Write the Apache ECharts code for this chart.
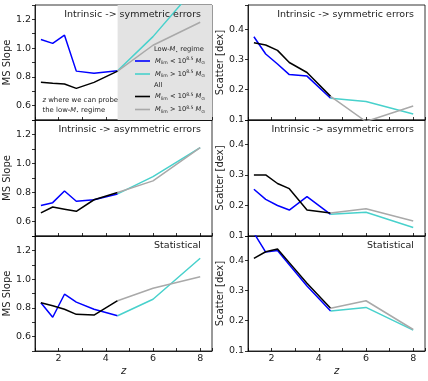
<!DOCTYPE html>
<html>
<head>
<meta charset="utf-8">
<script src="https://cdn.jsdelivr.net/npm/echarts@6/dist/echarts.min.js"></script>
<style>
  html, body { margin: 0; padding: 0; background: #fff; }
  #chart { width: 428px; height: 381px; }
</style>
</head>
<body>
<div id="chart"></div>
<script>
// redshift bins
const zLow = [1.25, 1.75, 2.25, 2.75, 3.5, 4.5]
const zHigh = [4.5, 6, 8]
const xTicks = [2, 4, 6, 8]

// MS slope: intrinsic -> symmetric errors
const slopeSymLoLt = [1.06, 1.033, 1.09, 0.84, 0.825, 0.843]
const slopeSymLoGt = [0.843, 1.08, 1.46]
const slopeSymAllLt = [0.762, 0.755, 0.75, 0.72, 0.762, 0.84]
const slopeSymAllGt = [0.84, 1.02, 1.18]
// MS slope: intrinsic -> asymmetric errors
const slopeAsymLoLt = [0.71, 0.73, 0.81, 0.74, 0.75, 0.79]
const slopeAsymLoGt = [0.79, 0.91, 1.11]
const slopeAsymAllLt = [0.66, 0.70, 0.685, 0.67, 0.75, 0.80]
const slopeAsymAllGt = [0.80, 0.88, 1.11]
// MS slope: statistical
const slopeStatLoLt = [0.836, 0.735, 0.895, 0.84, 0.79, 0.745]
const slopeStatLoGt = [0.745, 0.86, 1.145]
const slopeStatAllLt = [0.836, 0.815, 0.79, 0.755, 0.75, 0.85]
const slopeStatAllGt = [0.85, 0.936, 1.017]

// scatter: intrinsic -> symmetric errors
const scatSymLoLt = [0.375, 0.318, 0.285, 0.25, 0.245, 0.172]
const scatSymLoGt = [0.172, 0.161, 0.12]
const scatSymAllLt = [0.355, 0.348, 0.33, 0.29, 0.257, 0.178]
const scatSymAllGt = [0.178, 0.095, 0.146]
// scatter: intrinsic -> asymmetric errors
const scatAsymLoLt = [0.253, 0.22, 0.20, 0.185, 0.229, 0.171]
const scatAsymLoGt = [0.171, 0.178, 0.128]
const scatAsymAllLt = [0.30, 0.30, 0.272, 0.255, 0.185, 0.175]
const scatAsymAllGt = [0.175, 0.189, 0.149]
// scatter: statistical
const scatStatLoLt = [0.49, 0.427, 0.432, 0.385, 0.315, 0.232]
const scatStatLoGt = [0.232, 0.244, 0.169]
const scatStatAllLt = [0.406, 0.428, 0.437, 0.392, 0.324, 0.241]
const scatStatAllGt = [0.241, 0.266, 0.171]

const FONT = 'DejaVu Sans'
const colors = { lo_lt: '#0000ff', lo_gt: '#48d1cc', all_lt: '#000000', all_gt: '#a9a9a9' }

const panels = [
  { title: 'Intrinsic -> symmetric errors', col: 0, row: 0, d: [slopeSymLoLt, slopeSymLoGt, slopeSymAllLt, slopeSymAllGt] },
  { title: 'Intrinsic -> symmetric errors', col: 1, row: 0, d: [scatSymLoLt, scatSymLoGt, scatSymAllLt, scatSymAllGt] },
  { title: 'Intrinsic -> asymmetric errors', col: 0, row: 1, d: [slopeAsymLoLt, slopeAsymLoGt, slopeAsymAllLt, slopeAsymAllGt] },
  { title: 'Intrinsic -> asymmetric errors', col: 1, row: 1, d: [scatAsymLoLt, scatAsymLoGt, scatAsymAllLt, scatAsymAllGt] },
  { title: 'Statistical', col: 0, row: 2, d: [slopeStatLoLt, slopeStatLoGt, slopeStatAllLt, slopeStatAllGt] },
  { title: 'Statistical', col: 1, row: 2, d: [scatStatLoLt, scatStatLoGt, scatStatAllLt, scatStatAllGt] }
]

const colLeft = [35, 248]
const colWidth = 177
const rowTop = [5, 120, 236]
const rowHeight = [115, 116, 115]

const pair = (xs, ys) => xs.map((x, i) => [x, ys[i]])

const grid = []
const xAxis = []
const yAxis = []
const title = []
const series = []

panels.forEach((p, i) => {
  grid.push({
    left: colLeft[p.col], top: rowTop[p.row], width: colWidth, height: rowHeight[p.row],
    show: true, borderColor: '#000', borderWidth: 0.8, backgroundColor: 'transparent'
  })
  const bottomRow = p.row === 2
  xAxis.push({
    type: 'value', gridIndex: i, min: 1, max: 8.5, interval: 1,
    splitLine: { show: false },
    axisLine: { show: true, onZero: false, lineStyle: { color: '#000', width: 0.8 } },
    axisTick: { show: true, inside: true, length: 3, lineStyle: { color: '#000', width: 0.8 } },
    axisLabel: {
      show: bottomRow, margin: 3, fontFamily: FONT, fontSize: 9.5, color: '#222',
      formatter: v => (xTicks.indexOf(v) >= 0 ? String(v) : '')
    },
    name: bottomRow ? 'z' : '', nameLocation: 'middle', nameGap: 15,
    nameTextStyle: { fontFamily: FONT, fontSize: 10, fontStyle: 'italic', color: '#222' }
  })
  const isSlope = p.col === 0
  yAxis.push({
    type: 'value', gridIndex: i,
    min: isSlope ? 0.5 : 0.1, max: isSlope ? 1.3 : 0.48, interval: 0.1,
    splitLine: { show: false },
    axisLine: { show: true, lineStyle: { color: '#000', width: 0.8 } },
    axisTick: { show: true, inside: false, length: 3, lineStyle: { color: '#000', width: 0.8 } },
    axisLabel: {
      margin: 4, fontFamily: FONT, fontSize: 9.5, color: '#222',
      formatter: v => {
        const k = Math.round(v * 10)
        if (Math.abs(v * 10 - k) > 1e-6) return ''
        if (isSlope) return (k % 2 === 0 && k >= 6 && k <= 12) ? (k / 10).toFixed(1) : ''
        return (k >= 1 && k <= 4) ? (k / 10).toFixed(1) : ''
      }
    },
    name: isSlope ? 'MS Slope' : 'Scatter [dex]', nameLocation: 'middle', nameGap: isSlope ? 22 : 23,
    nameTextStyle: { fontFamily: FONT, fontSize: 10, color: '#222' }
  })
  title.push({
    text: p.title,
    right: p.col === 0 ? 428 - 201 : 428 - 414,
    top: rowTop[p.row] + 5,
    padding: 0,
    textStyle: { fontFamily: FONT, fontSize: 9.5, fontWeight: 'normal', color: '#222' }
  })

  // shaded high-z region in the first panel
  if (i === 0) {
    series.push({
      type: 'line', xAxisIndex: i, yAxisIndex: i, data: [], z: 0, silent: true,
      markArea: {
        silent: true,
        itemStyle: { color: '#e3e3e3' },
        data: [[{ xAxis: 4.5 }, { xAxis: 8.5 }]]
      }
    })
  }

  const names = ['lo_lt', 'lo_gt', 'all_lt', 'all_gt']
  const xs = [zLow, zHigh, zLow, zHigh]
  names.forEach((n, k) => {
    series.push({
      name: n, type: 'line', xAxisIndex: i, yAxisIndex: i,
      data: pair(xs[k], p.d[k]),
      symbol: 'none', smooth: false, clip: true, z: 2 + k,
      lineStyle: { color: colors[n], width: 1.5 },
      itemStyle: { color: colors[n] },
      emphasis: { disabled: true }
    })
  })
})

const legendText = {
  lo_lt: '{i|M}{s|lim} < 10{p|8.5} {i|M}{s|⊙}',
  lo_gt: '{i|M}{s|lim} > 10{p|8.5} {i|M}{s|⊙}',
  all_lt: '{i|M}{s|lim} < 10{p|8.5} {i|M}{s|⊙}',
  all_gt: '{i|M}{s|lim} > 10{p|8.5} {i|M}{s|⊙}'
}
const smallRich = {
  i: { fontStyle: 'italic', fontFamily: FONT, fontSize: 6.7, lineHeight: 9, color: '#222' },
  s: { fontFamily: FONT, fontSize: 4.6, lineHeight: 5, verticalAlign: 'bottom', color: '#222' },
  p: { fontFamily: FONT, fontSize: 4.6, lineHeight: 5, verticalAlign: 'top', color: '#222' }
}
const legendBase = {
  orient: 'vertical', left: 135, padding: 0, itemGap: 4, itemWidth: 15, itemHeight: 1.6,
  icon: 'rect', selectedMode: false, z: 10,
  formatter: n => legendText[n],
  textStyle: { fontFamily: FONT, fontSize: 6.7, lineHeight: 9, color: '#222', rich: smallRich }
}

const option = {
  animation: false,
  backgroundColor: '#fff',
  title,
  grid,
  xAxis,
  yAxis,
  legend: [
    Object.assign({}, legendBase, { top: 56.5, data: ['lo_lt', 'lo_gt'] }),
    Object.assign({}, legendBase, { top: 92, data: ['all_lt', 'all_gt'] })
  ],
  graphic: {
    elements: [
      {
        type: 'text', x: 154, y: 49.5, z: 100,
        style: { text: 'Low-{i|M}{s|⋆} regime', verticalAlign: 'middle', fontFamily: FONT, fontSize: 6.7, fill: '#222', rich: smallRich }
      },
      {
        type: 'text', x: 154, y: 85, z: 100,
        style: { text: 'All', verticalAlign: 'middle', fontFamily: FONT, fontSize: 6.7, fill: '#222' }
      },
      {
        type: 'text', x: 42.5, y: 100.5, z: 100,
        style: { text: '{i|z} where we can probe', verticalAlign: 'middle', fontFamily: FONT, fontSize: 6.9, fill: '#222', rich: smallRich }
      },
      {
        type: 'text', x: 42.5, y: 110, z: 100,
        style: { text: 'the low-{i|M}{s|⋆} regime', verticalAlign: 'middle', fontFamily: FONT, fontSize: 6.9, fill: '#222', rich: smallRich }
      }
    ]
  },
  series
}

const myChart = echarts.init(document.getElementById('chart'), null, { renderer: 'canvas' })
myChart.setOption(option)
</script>
</body>
</html>
